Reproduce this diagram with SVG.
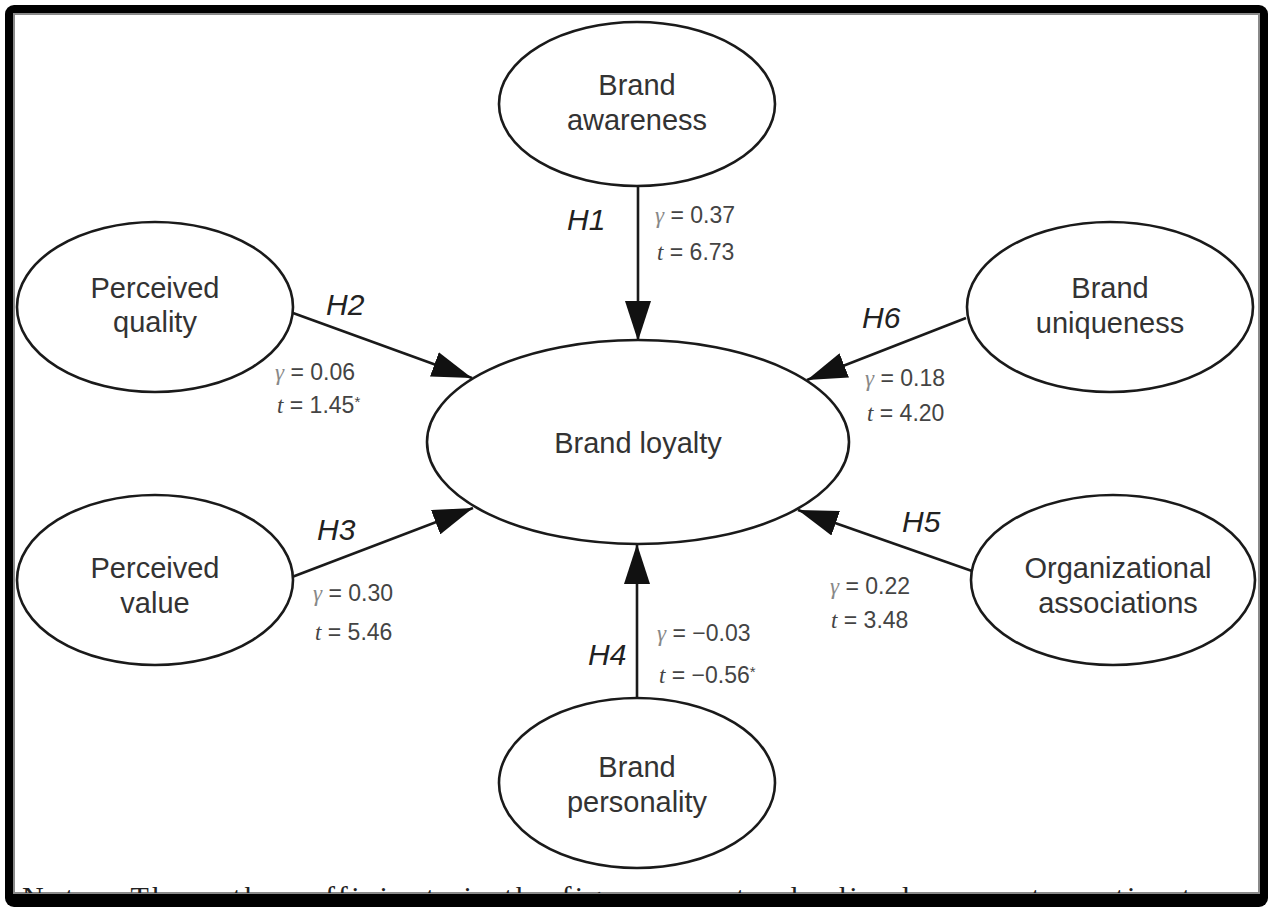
<svg xmlns="http://www.w3.org/2000/svg" width="1273" height="912" viewBox="0 0 1273 912">
<style>
.node ellipse{fill:#fff;stroke:#1a1a1a;stroke-width:2.6}
.lbl{font-family:"Liberation Sans",Arial,sans-serif;font-size:29px;fill:#333;text-anchor:middle}
.h{font-family:"Liberation Sans",Arial,sans-serif;font-size:30px;font-style:italic;fill:#222}
.st{font-family:"Liberation Sans",Arial,sans-serif;font-size:23px;fill:#444}
.g{font-family:"Liberation Serif","Times New Roman",serif;font-style:italic;fill:#888}
.t{font-family:"Liberation Serif","Times New Roman",serif;font-style:italic;fill:#444}
.conn line{stroke:#1a1a1a;stroke-width:2.6;marker-end:url(#ah)}
.note{font-family:"Liberation Serif","Times New Roman",serif;font-size:30px;fill:#222}
</style>
<defs>
<marker id="ah" markerUnits="userSpaceOnUse" markerWidth="40" markerHeight="26" refX="40" refY="13" orient="auto" viewBox="0 0 40 26">
<path d="M0,0 L40,13 L0,26 z" fill="#111"/>
</marker>
<clipPath id="clipNote"><rect x="14" y="14" width="1245" height="879"/></clipPath>
</defs>
<rect x="0" y="0" width="1273" height="912" fill="#fff"/>
<rect x="5" y="5" width="1263" height="902" rx="9" fill="#000"/>
<rect x="14" y="14" width="1245" height="879" fill="#fff" stroke="#8a8a8a" stroke-width="2"/>
<text class="note" x="22" y="907" clip-path="url(#clipNote)" textLength="1200" lengthAdjust="spacing">Notes: The path coefficients in the figure are standardized parameter estimates</text>

<g class="conn" id="connectors">
<line x1="638" y1="186" x2="638" y2="341"/>
<line x1="293" y1="313" x2="472" y2="378"/>
<line x1="966" y1="318" x2="807" y2="380"/>
<line x1="292" y1="577" x2="473" y2="508"/>
<line x1="972" y1="571" x2="798" y2="510"/>
<line x1="637" y1="697" x2="637" y2="544"/>
</g>

<g id="edge-labels">
<text class="h" x="567" y="230">H1</text>
<text class="st" x="655" y="223"><tspan class="g">γ</tspan> = 0.37</text>
<text class="st" x="657" y="260"><tspan class="t">t</tspan> = 6.73</text>

<text class="h" x="326" y="315">H2</text>
<text class="st" x="275" y="380"><tspan class="g">γ</tspan> = 0.06</text>
<text class="st" x="277" y="413"><tspan class="t">t</tspan> = 1.45<tspan font-size="15" dy="-6">*</tspan></text>

<text class="h" x="862" y="328">H6</text>
<text class="st" x="865" y="386"><tspan class="g">γ</tspan> = 0.18</text>
<text class="st" x="867" y="421"><tspan class="t">t</tspan> = 4.20</text>

<text class="h" x="317" y="540">H3</text>
<text class="st" x="313" y="601"><tspan class="g">γ</tspan> = 0.30</text>
<text class="st" x="315" y="640"><tspan class="t">t</tspan> = 5.46</text>

<text class="h" x="588" y="665">H4</text>
<text class="st" x="657" y="641"><tspan class="g">γ</tspan> = −0.03</text>
<text class="st" x="659" y="683"><tspan class="t">t</tspan> = −0.56<tspan font-size="15" dy="-6">*</tspan></text>

<text class="h" x="902" y="532">H5</text>
<text class="st" x="830" y="594"><tspan class="g">γ</tspan> = 0.22</text>
<text class="st" x="831" y="628"><tspan class="t">t</tspan> = 3.48</text>
</g>

<g class="node" id="brand-awareness">
<ellipse cx="637" cy="104" rx="138" ry="82"/>
<text class="lbl" x="637" y="95">Brand</text>
<text class="lbl" x="637" y="130">awareness</text>
</g>
<g class="node" id="perceived-quality">
<ellipse cx="155" cy="307" rx="138" ry="85"/>
<text class="lbl" x="155" y="298">Perceived</text>
<text class="lbl" x="155" y="332">quality</text>
</g>
<g class="node" id="brand-uniqueness">
<ellipse cx="1110" cy="307" rx="143" ry="85"/>
<text class="lbl" x="1110" y="298">Brand</text>
<text class="lbl" x="1110" y="333">uniqueness</text>
</g>
<g class="node" id="brand-loyalty">
<ellipse cx="638" cy="442" rx="211" ry="102"/>
<text class="lbl" x="638" y="453">Brand loyalty</text>
</g>
<g class="node" id="perceived-value">
<ellipse cx="155" cy="580" rx="138" ry="85"/>
<text class="lbl" x="155" y="578">Perceived</text>
<text class="lbl" x="155" y="613">value</text>
</g>
<g class="node" id="organizational-associations">
<ellipse cx="1113" cy="580" rx="142" ry="85"/>
<text class="lbl" x="1118" y="578">Organizational</text>
<text class="lbl" x="1118" y="613">associations</text>
</g>
<g class="node" id="brand-personality">
<ellipse cx="637" cy="783" rx="138" ry="85"/>
<text class="lbl" x="637" y="777">Brand</text>
<text class="lbl" x="637" y="812">personality</text>
</g>
</svg>
